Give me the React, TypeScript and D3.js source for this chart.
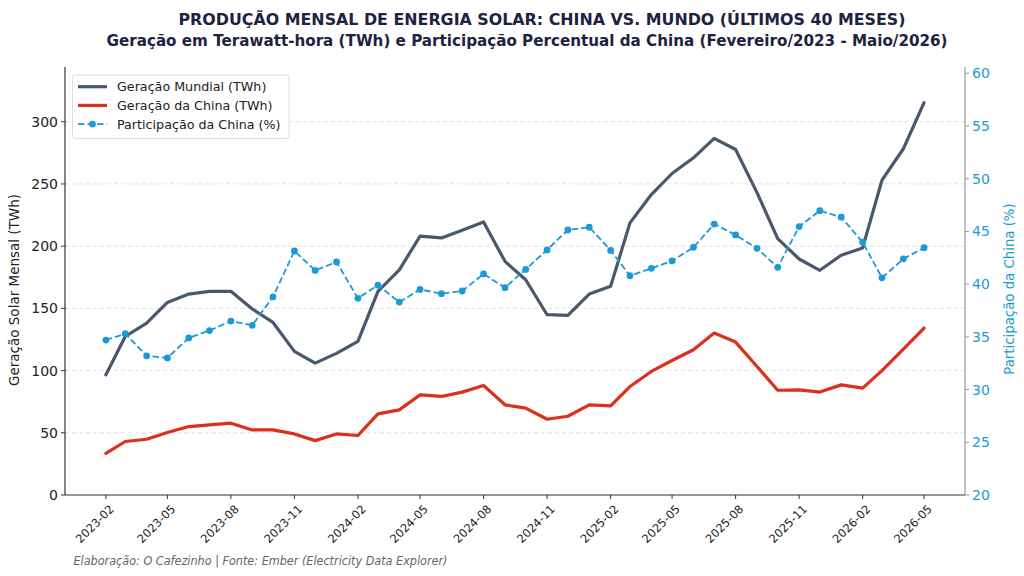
import React from "react";
import * as d3 from "d3";

// Monthly solar generation: world vs China, and China's share
const months: string[] = [
  "2023-02", "2023-03", "2023-04", "2023-05", "2023-06", "2023-07", "2023-08", "2023-09", "2023-10", "2023-11",
  "2023-12", "2024-01", "2024-02", "2024-03", "2024-04", "2024-05", "2024-06", "2024-07", "2024-08", "2024-09",
  "2024-10", "2024-11", "2024-12", "2025-01", "2025-02", "2025-03", "2025-04", "2025-05", "2025-06", "2025-07",
  "2025-08", "2025-09", "2025-10", "2025-11", "2025-12", "2026-01", "2026-02", "2026-03", "2026-04", "2026-05",
];

const worldTWh: number[] = [
  96.6, 127.4, 138.2, 154.8, 161.5, 163.7, 163.7, 149.5, 138.7, 115.4,
  106.0, 113.8, 123.4, 163.7, 181.0, 208.0, 206.6, 212.8, 219.5, 187.8,
  173.0, 144.9, 144.3, 161.5, 167.7, 218.7, 241.5, 258.4, 271.0, 286.6,
  277.7, 243.0, 206.0, 189.7, 180.6, 192.7, 198.6, 253.0, 278.3, 315.3,
];

const chinaTWh: number[] = [
  33.5, 43.0, 44.8, 50.2, 55.0, 56.4, 57.7, 52.3, 52.3, 49.1,
  43.7, 49.1, 47.8, 65.2, 68.4, 80.5, 79.2, 82.7, 88.0, 72.5,
  69.8, 60.9, 63.3, 72.5, 71.6, 87.2, 99.3, 108.1, 116.7, 130.2,
  122.9, 103.3, 84.2, 84.5, 82.7, 88.5, 85.9, 100.0, 117.3, 134.2,
];

const chinaSharePct: number[] = [
  34.7, 35.3, 33.2, 33.0, 34.9, 35.6, 36.5, 36.1, 38.8, 43.15,
  41.3, 42.1, 38.66, 39.9, 38.3, 39.5, 39.1, 39.35, 40.97, 39.67,
  41.4, 43.25, 45.14, 45.4, 43.2, 40.8, 41.5, 42.2, 43.5, 45.7,
  44.67, 43.4, 41.6, 45.46, 46.97, 46.35, 43.98, 40.6, 42.4, 43.46,
];

const xTickLabels: string[] = [
  "2023-02", "2023-05", "2023-08", "2023-11", "2024-02", "2024-05", "2024-08",
  "2024-11", "2025-02", "2025-05", "2025-08", "2025-11", "2026-02", "2026-05",
];
const leftTicks: number[] = [0, 50, 100, 150, 200, 250, 300];
const rightTicks: number[] = [20, 25, 30, 35, 40, 45, 50, 55, 60];

const legendLabels: string[] = [
  "Geração Mundial (TWh)",
  "Geração da China (TWh)",
  "Participação da China (%)",
];

const W = 1024;
const H = 576;
const M = { left: 65, right: 965, top: 67, bottom: 495 };

const C_WORLD = "#4a586e";
const C_CHINA = "#dc2f1c";
const C_SHARE = "#1b9ad6";
const FONT = "'DejaVu Sans', sans-serif";

const parse = d3.timeParse("%Y-%m");

export default function App() {
  const dates = months.map((m) => parse(m) as Date);
  const first = dates[0];
  const last = dates[dates.length - 1];
  const span = last.getTime() - first.getTime();
  const pad = span * 0.05;

  const x = d3
    .scaleTime()
    .domain([new Date(first.getTime() - pad), new Date(last.getTime() + pad)])
    .range([M.left, M.right]);
  const yL = d3.scaleLinear().domain([0, 344]).range([M.bottom, M.top]);
  const yR = d3.scaleLinear().domain([20, 60.6]).range([M.bottom, M.top]);

  const lineL = d3
    .line<number>()
    .x((_, i) => x(dates[i]))
    .y((d) => yL(d));
  const lineR = d3
    .line<number>()
    .x((_, i) => x(dates[i]))
    .y((d) => yR(d));

  const legendRows = [
    { label: legendLabels[0], color: C_WORLD, width: 3.2, dash: undefined, marker: false },
    { label: legendLabels[1], color: C_CHINA, width: 3.2, dash: undefined, marker: false },
    { label: legendLabels[2], color: C_SHARE, width: 1.8, dash: "6.5,3", marker: true },
  ];

  return (
    <svg width={W} height={H} viewBox={`0 0 ${W} ${H}`} style={{ display: "block", position: "absolute", left: 0, top: 0, background: "#fff" }} fontFamily={FONT}>
      <rect width={W} height={H} fill="#fff" />

      {/* titles */}
      <text x={542} y={25} textAnchor="middle" fontSize={16.3} fontWeight="bold" fill="#1d2340" textLength={727} lengthAdjust="spacingAndGlyphs">
        PRODUÇÃO MENSAL DE ENERGIA SOLAR: CHINA VS. MUNDO (ÚLTIMOS 40 MESES)
      </text>
      <text x={527} y={46} textAnchor="middle" fontSize={15.2} fontWeight="bold" fill="#1d2340" textLength={841} lengthAdjust="spacingAndGlyphs">
        Geração em Terawatt-hora (TWh) e Participação Percentual da China (Fevereiro/2023 - Maio/2026)
      </text>

      {/* horizontal grid */}
      {leftTicks.filter((t) => t > 0).map((t) => (
        <line key={`g${t}`} x1={M.left} x2={M.right} y1={yL(t)} y2={yL(t)} stroke="#d9d9d9" strokeWidth={0.8} strokeDasharray="4,3" />
      ))}

      {/* series */}
      <path d={lineL(worldTWh) ?? ""} fill="none" stroke={C_WORLD} strokeWidth={3.2} strokeLinejoin="round" strokeLinecap="round" />
      <path d={lineL(chinaTWh) ?? ""} fill="none" stroke={C_CHINA} strokeWidth={3.2} strokeLinejoin="round" strokeLinecap="round" />
      <path d={lineR(chinaSharePct) ?? ""} fill="none" stroke={C_SHARE} strokeWidth={1.8} strokeDasharray="6.5,3" />
      {chinaSharePct.map((v, i) => (
        <circle key={`m${i}`} cx={x(dates[i])} cy={yR(v)} r={3.4} fill={C_SHARE} />
      ))}

      {/* spines */}
      <line x1={M.left} x2={M.left} y1={M.top} y2={M.bottom} stroke="#333" strokeWidth={1.2} />
      <line x1={M.right} x2={M.right} y1={M.top} y2={M.bottom} stroke="#999" strokeWidth={1.2} />
      <line x1={M.left} x2={M.right} y1={M.bottom} y2={M.bottom} stroke="#333" strokeWidth={1.2} />

      {/* left axis */}
      {leftTicks.map((t) => (
        <g key={`l${t}`}>
          <line x1={M.left - 4} x2={M.left} y1={yL(t)} y2={yL(t)} stroke="#333" strokeWidth={1} />
          <text x={M.left - 7} y={yL(t)} dy="0.36em" textAnchor="end" fontSize={14} fill="#222">
            {t}
          </text>
        </g>
      ))}
      <text transform={`translate(14, 290) rotate(-90)`} textAnchor="middle" dy="0.35em" fontSize={13.5} fill="#222">
        Geração Solar Mensal (TWh)
      </text>

      {/* right axis */}
      {rightTicks.map((t) => (
        <g key={`r${t}`}>
          <line x1={M.right} x2={M.right + 4} y1={yR(t)} y2={yR(t)} stroke="#999" strokeWidth={1} />
          <text x={M.right + 7} y={yR(t)} dy="0.36em" textAnchor="start" fontSize={14} fill={C_SHARE}>
            {t}
          </text>
        </g>
      ))}
      <text transform={`translate(1009, 289) rotate(-90)`} textAnchor="middle" dy="0.35em" fontSize={13.3} fill={C_SHARE}>
        Participação da China (%)
      </text>

      {/* x axis */}
      {xTickLabels.map((lab) => {
        const xx = x(parse(lab) as Date);
        return (
          <g key={`x${lab}`}>
            <line x1={xx} x2={xx} y1={M.bottom} y2={M.bottom + 4} stroke="#333" strokeWidth={1} />
            <text transform={`translate(${xx + 3}, ${M.bottom + 9}) rotate(-45)`} textAnchor="end" dy="0.7em" fontSize={11.5} fill="#222">
              {lab}
            </text>
          </g>
        );
      })}

      {/* legend */}
      <rect x={72.5} y={75} width={216.5} height={63.5} rx={3} fill="#fff" fillOpacity={0.9} stroke="#dddddd" strokeWidth={1} />
      {legendRows.map((r, i) => {
        const cy = 86.7 + i * 18.7;
        return (
          <g key={`lg${i}`}>
            <line x1={78} x2={107} y1={cy} y2={cy} stroke={r.color} strokeWidth={r.width} strokeDasharray={r.dash} />
            {r.marker && <circle cx={92.5} cy={cy} r={3.4} fill={r.color} />}
            <text x={117} y={cy} dy="0.36em" fontSize={12.7} fill="#222">
              {r.label}
            </text>
          </g>
        );
      })}

      {/* source note */}
      <text x={73.5} y={565} fontSize={11.5} fontStyle="italic" fill="#666" textLength={374} lengthAdjust="spacingAndGlyphs">
        Elaboração: O Cafezinho | Fonte: Ember (Electricity Data Explorer)
      </text>
    </svg>
  );
}
